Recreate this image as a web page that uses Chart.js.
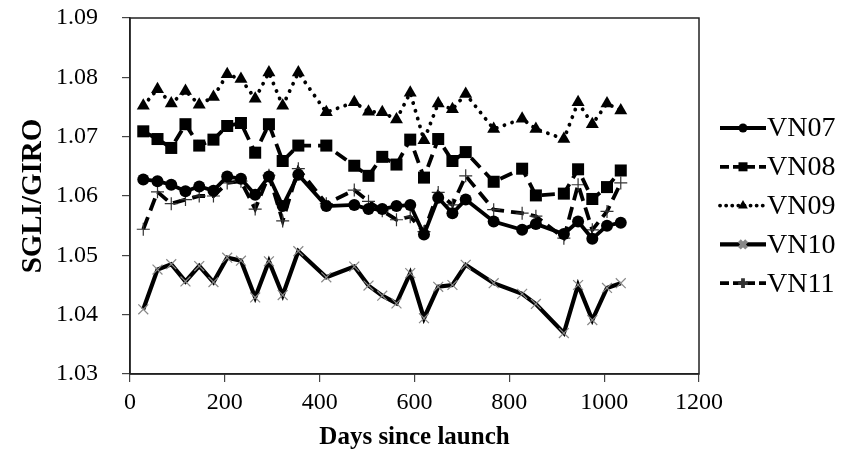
<!DOCTYPE html>
<html>
<head>
<meta charset="utf-8">
<script src="https://cdn.jsdelivr.net/npm/chart.js@4.4.0/dist/chart.umd.min.js"></script>
<style>
  html, body { margin: 0; padding: 0; background: #fff; }
  #wrap { width: 843px; height: 457px; }
</style>
</head>
<body>
<div id="wrap"><canvas id="chart"></canvas></div>
<script>
// days since launch (shared by all series)
const days = [28, 58, 87, 117, 146, 176, 205, 234, 264, 293, 322, 355, 414, 473, 503, 532, 562, 591, 620, 650, 680, 708, 767, 827, 856, 915, 945, 975, 1006, 1035];

const vn07 = [1.0628, 1.0625, 1.0619, 1.0608, 1.0616, 1.0609, 1.0633, 1.0629, 1.0602, 1.0633, 1.0583, 1.0636, 1.0583, 1.0585, 1.0578, 1.0578, 1.0583, 1.0585, 1.0535, 1.0597, 1.0571, 1.0594, 1.0557, 1.0543, 1.0553, 1.0536, 1.0557, 1.0528, 1.0550, 1.0555];
const vn08 = [1.0709, 1.0696, 1.0681, 1.0721, 1.0685, 1.0695, 1.0718, 1.0723, 1.0673, 1.0721, 1.0659, 1.0685, 1.0685, 1.0651, 1.0634, 1.0666, 1.0653, 1.0695, 1.0631, 1.0696, 1.0659, 1.0674, 1.0624, 1.0646, 1.0601, 1.0604, 1.0645, 1.0595, 1.0615, 1.0643];
const vn09 = [1.0752, 1.0780, 1.0756, 1.0777, 1.0754, 1.0767, 1.0805, 1.0797, 1.0764, 1.0808, 1.0752, 1.0808, 1.0741, 1.0758, 1.0742, 1.0741, 1.0729, 1.0774, 1.0694, 1.0756, 1.0746, 1.0772, 1.0713, 1.0730, 1.0713, 1.0696, 1.0758, 1.0721, 1.0756, 1.0744];
const vn10 = [1.0409, 1.0476, 1.0485, 1.0456, 1.0482, 1.0455, 1.0496, 1.0491, 1.0429, 1.0490, 1.0433, 1.0507, 1.0463, 1.0481, 1.0449, 1.0432, 1.0419, 1.0470, 1.0394, 1.0447, 1.0450, 1.0484, 1.0453, 1.0435, 1.0418, 1.0369, 1.0450, 1.0391, 1.0445, 1.0453];
const vn11 = [1.0544, 1.0607, 1.0587, 1.0594, 1.0600, 1.0600, 1.0622, 1.0625, 1.0578, 1.0635, 1.0558, 1.0646, 1.0587, 1.0610, 1.0591, 1.0575, 1.0560, 1.0565, 1.0540, 1.0606, 1.0585, 1.0634, 1.0577, 1.0571, 1.0566, 1.0529, 1.0619, 1.0543, 1.0574, 1.0622];

const seriesNames = ['VN07', 'VN08', 'VN09', 'VN10', 'VN11'];
const xTicks = [0, 200, 400, 600, 800, 1000, 1200];
const yTicks = [1.03, 1.04, 1.05, 1.06, 1.07, 1.08, 1.09];

const FONT = '"Liberation Serif", "Times New Roman", serif';

function toPoints(vals) {
    return days.map((d, i) => ({ x: d, y: vals[i] }));
}

const datasets = [
    {
        label: seriesNames[0], data: toPoints(vn07),
        borderColor: '#000', backgroundColor: '#000', borderWidth: 3.8,
        pointStyle: 'circle', pointRadius: 6, pointBorderWidth: 0
    },
    {
        label: seriesNames[1], data: toPoints(vn08),
        borderColor: '#000', backgroundColor: '#000', borderWidth: 3.8, borderDash: [13, 7],
        pointStyle: 'rect', pointRadius: 8.5, pointBorderWidth: 0
    },
    {
        label: seriesNames[2], data: toPoints(vn09),
        borderColor: '#000', backgroundColor: '#000', borderWidth: 3.8, borderDash: [0.1, 8], borderCapStyle: 'round',
        pointStyle: 'triangle', pointRadius: 7.5, pointBorderWidth: 0
    },
    {
        label: seriesNames[3], data: toPoints(vn10),
        borderColor: '#000', backgroundColor: '#000', borderWidth: 4.2,
        pointStyle: 'crossRot', pointRadius: 7, pointBorderWidth: 1.2, pointBorderColor: '#888'
    },
    {
        label: seriesNames[4], data: toPoints(vn11),
        borderColor: '#000', backgroundColor: '#000', borderWidth: 3.8, borderDash: [13, 7],
        pointStyle: 'cross', pointRadius: 6.5, pointBorderWidth: 1.2, pointBorderColor: '#333'
    }
];

// frame around the plot area + legend with line and marker
const framePlugin = {
    id: 'frame',
    afterDraw(chart) {
        const ctx = chart.ctx;
        const a = chart.chartArea;
        ctx.save();
        ctx.strokeStyle = '#222';
        ctx.lineWidth = 1.5;
        ctx.strokeRect(a.left, a.top, a.right - a.left, a.bottom - a.top);

        // legend
        const x0 = 720, x1 = 766, yStart = 128, step = 38.8;
        chart.data.datasets.forEach((ds, i) => {
            const y = yStart + i * step;
            ctx.setLineDash(ds.borderDash ? (ds.borderDash[0] < 1 ? [0.1, 6] : [9, 4]) : []);
            ctx.lineCap = ds.borderCapStyle || 'butt';
            ctx.lineWidth = ds.borderWidth;
            ctx.strokeStyle = '#000';
            ctx.beginPath();
            ctx.moveTo(x0, y);
            ctx.lineTo(x1, y);
            ctx.stroke();
            ctx.setLineDash([]);
            ctx.fillStyle = '#000';
            ctx.strokeStyle = ds.pointBorderColor || '#000';
            Chart.helpers.drawPoint(ctx, {
                pointStyle: ds.pointStyle,
                radius: ds.pointRadius * 0.75,
                borderWidth: ds.pointBorderWidth,
                rotation: 0
            }, (x0 + x1) / 2, y);
            ctx.fillStyle = '#000';
            ctx.font = '28px ' + FONT;
            ctx.textBaseline = 'middle';
            ctx.textAlign = 'left';
            ctx.fillText(ds.label, x1 + 1, y + 1);
        });
        ctx.restore();
    }
};

new Chart(document.getElementById('chart'), {
    type: 'line',
    data: { datasets: datasets },
    plugins: [framePlugin],
    options: {
        responsive: true,
        maintainAspectRatio: false,
        animation: false,
        layout: { padding: { top: 18, right: 144, left: 0, bottom: 0 } },
        plugins: {
            legend: { display: false },
            tooltip: { enabled: false }
        },
        elements: { line: { tension: 0 } },
        scales: {
            x: {
                type: 'linear',
                min: 0, max: 1200,
                afterBuildTicks: s => { s.ticks = xTicks.map(v => ({ value: v })); },
                afterFit: s => { s.height = 83; },
                grid: { drawOnChartArea: false, drawTicks: true, tickLength: 8, color: '#444', lineWidth: 1.2 },
                border: { color: '#222', width: 1.5 },
                ticks: {
                    color: '#000', font: { family: FONT, size: 24 }, padding: 6, maxRotation: 0,
                    callback: v => String(v)
                },
                title: {
                    display: true, text: 'Days since launch', color: '#000',
                    font: { family: FONT, size: 25, weight: 'bold' }, padding: { top: 0, bottom: 4 }
                }
            },
            y: {
                min: 1.03, max: 1.09,
                afterBuildTicks: s => { s.ticks = yTicks.map(v => ({ value: v })); },
                afterFit: s => { s.width = 130; s.paddingTop = 0; s.paddingBottom = 0; },
                grid: { drawOnChartArea: false, drawTicks: true, tickLength: 8, color: '#444', lineWidth: 1.2 },
                border: { color: '#222', width: 1.5 },
                ticks: {
                    color: '#000', font: { family: FONT, size: 24 }, padding: 24,
                    callback: v => v.toFixed(2)
                },
                title: {
                    display: true, text: 'SGLI/GIRO', color: '#000',
                    font: { family: FONT, size: 29, weight: 'bold' }, padding: { top: 16, bottom: 0 }
                }
            }
        }
    }
});
</script>
</body>
</html>
